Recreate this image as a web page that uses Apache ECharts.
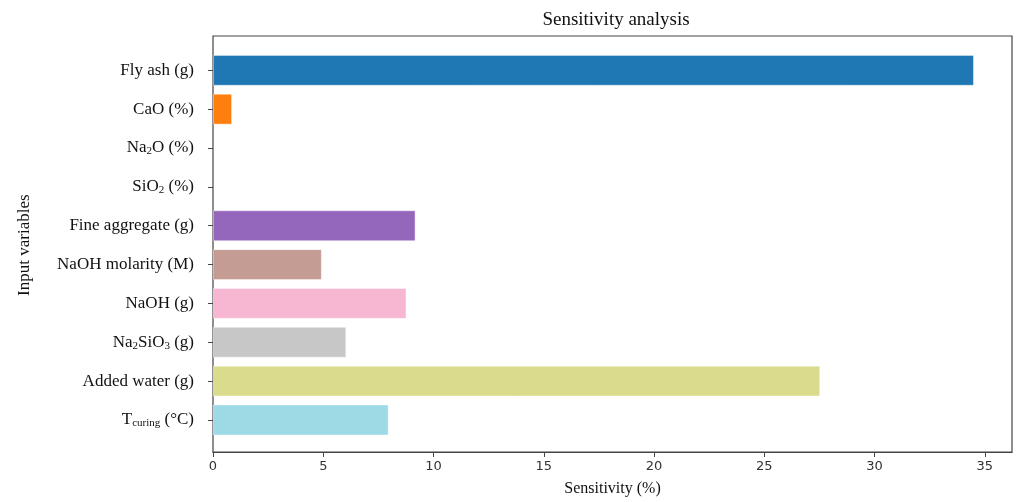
<!DOCTYPE html>
<html>
<head>
<meta charset="utf-8">
<script src="https://cdn.jsdelivr.net/npm/echarts@6/dist/echarts.min.js"></script>
<style>
  html, body { margin: 0; padding: 0; background: #fff; }
  #chart { width: 1016px; height: 502px; }
</style>
</head>
<body>
<div id="chart"></div>
<script>
// labels use rich tags for the subscripts
const categories = [
  'Fly ash (g)',
  'CaO (%)',
  'Na{sub|2}O (%)',
  'SiO{sub|2} (%)',
  'Fine aggregate (g)',
  'NaOH molarity (M)',
  'NaOH (g)',
  'Na{sub|2}SiO{sub|3} (g)',
  'Added water (g)',
  'T{sub|curing} (°C)',
]
const sensitivity = [34.5, 0.86, 0, 0, 9.18, 4.93, 8.77, 6.04, 27.53, 7.96]
const barColors = [
  '#1f77b4', '#ff7f0e', '#2ca02c', '#98df8a', '#9467bd',
  '#c49c94', '#f7b6d2', '#c7c7c7', '#dbdb8d', '#9edae5',
]
const xTicks = [0, 5, 10, 15, 20, 25, 30, 35]

const serif = '"Liberation Serif", "DejaVu Serif", serif'
const chart = echarts.init(document.getElementById('chart'))

chart.setOption({
  animation: false,
  title: {
    text: 'Sensitivity analysis',
    left: 611,
    textAlign: 'center',
    top: 6,
    textStyle: { fontFamily: serif, fontSize: 19, fontWeight: 'normal', color: '#111' },
  },
  grid: [
    // frame + x axis
    { left: 213, right: 4, top: 36, bottom: 48, show: true, borderColor: '#444', borderWidth: 1.2, containLabel: false },
    // bars, narrower so the bands match the padded axis
    { left: 213, right: 4, top: 50.9, bottom: 62.6, containLabel: false },
  ],
  xAxis: [
    {
      gridIndex: 0,
      type: 'value',
      min: 0,
      max: 36.23,
      interval: 5,
      name: 'Sensitivity (%)',
      nameLocation: 'middle',
      nameGap: 29,
      nameTextStyle: { fontFamily: serif, fontSize: 16, color: '#111' },
      axisLine: { show: true, lineStyle: { color: '#444', width: 1.2 } },
      axisTick: { show: true, length: 5, lineStyle: { color: '#444' } },
      axisLabel: {
        fontFamily: '"DejaVu Sans", sans-serif',
        fontSize: 13,
        color: '#333',
        margin: 8,
        showMaxLabel: false,
        formatter: (v) => (xTicks.includes(v) ? String(v) : ''),
      },
      splitLine: { show: false },
    },
    { gridIndex: 1, type: 'value', min: 0, max: 36.23, show: false },
  ],
  yAxis: [
    { gridIndex: 0, type: 'value', show: false },
    {
      gridIndex: 1,
      type: 'category',
      inverse: true,
      data: categories,
      name: 'Input variables',
      nameLocation: 'middle',
      nameGap: 180,
      nameTextStyle: { fontFamily: serif, fontSize: 17, color: '#111' },
      axisLine: { show: false },
      axisTick: { show: true, alignWithLabel: true, length: 5, lineStyle: { color: '#444' } },
      axisLabel: {
        fontFamily: serif,
        fontSize: 17,
        color: '#111',
        margin: 19,
        rich: {
          sub: { fontFamily: serif, fontSize: 11, color: '#111', verticalAlign: 'bottom', padding: [7, 0, 0, 0] },
        },
      },
    },
  ],
  series: [
    {
      type: 'bar',
      xAxisIndex: 1,
      yAxisIndex: 1,
      barWidth: '79%',
      data: sensitivity.map((v, i) => ({
        value: v,
        itemStyle: {
          color: barColors[i],
          borderColor: 'rgba(255,255,255,0.5)',
          borderWidth: v > 0 ? 0.8 : 0,
          opacity: v > 0 ? 1 : 0,
        },
      })),
    },
  ],
})
</script>
</body>
</html>
